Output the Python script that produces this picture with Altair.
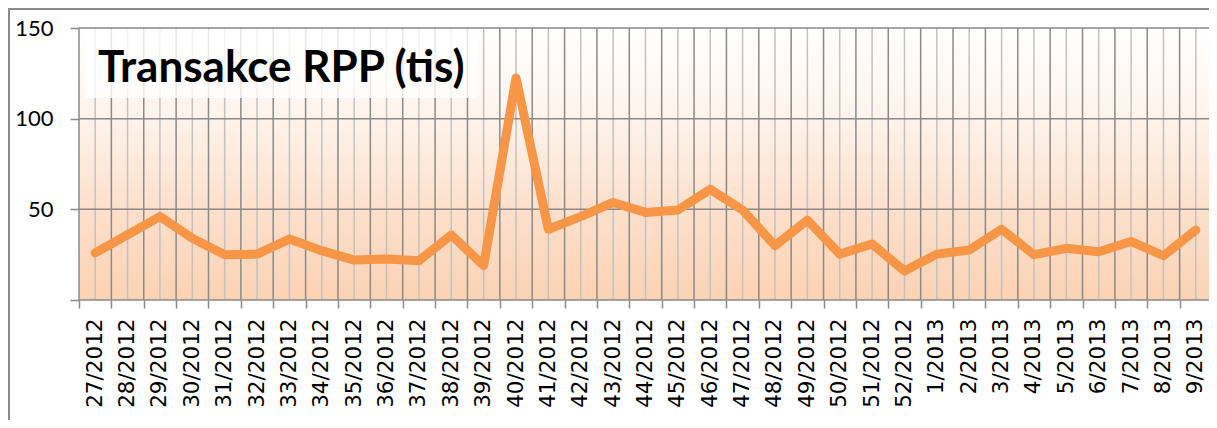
import altair as alt
import pandas as pd

weeks = ["27/2012", "28/2012", "29/2012", "30/2012", "31/2012", "32/2012", "33/2012",
         "34/2012", "35/2012", "36/2012", "37/2012", "38/2012", "39/2012", "40/2012",
         "41/2012", "42/2012", "43/2012", "44/2012", "45/2012", "46/2012", "47/2012",
         "48/2012", "49/2012", "50/2012", "51/2012", "52/2012", "1/2013", "2/2013",
         "3/2013", "4/2013", "5/2013", "6/2013", "7/2013", "8/2013", "9/2013"]
values = [26, 36, 46, 34, 25, 25.3, 33.6, 27.2, 22, 22.6,
          21.7, 35.8, 19, 122.5, 39, 46, 53.8, 48.3, 49.6, 61,
          49.6, 30, 44, 25.3, 30.9, 16, 25.3, 27.6, 39, 25,
          28.5, 26.6, 32.3, 24.4, 38.6]
y_ticks = [0, 50, 100, 150]
title_text = "Transakce RPP (tis)"

df = pd.DataFrame({"week": weeks, "value": values})
grid_df = pd.DataFrame({"y": y_ticks})
one = alt.Data(values=[{"a": 1}])

W = 1130
RANGE_W = 1133
H = 272
FONT = "Lato"
DARK = "#8a8a8a"
LIGHT = "#c2c2c2"

xscale = alt.Scale(type="band", domain=weeks, range=[0, RANGE_W], paddingInner=0, paddingOuter=0)
yscale = alt.Scale(domain=[0, 150], nice=False)

xaxis = alt.Axis(title=None, labelAngle=270, tickBand="extent", tickSize=8,
                 tickColor=DARK, tickWidth=1.5, domain=False, grid=False,
                 labelFont="DejaVu Sans", labelFontSize=21.5, labelColor="black",
                 labelPadding=10)
yaxis = alt.Axis(title=None, values=y_ticks, tickSize=9, tickColor=DARK,
                 tickWidth=1.5, domain=False, grid=False,
                 labelExpr="datum.value == 0 ? '' : datum.label",
                 labelFont=FONT, labelFontSize=22, labelColor="black",
                 labelPadding=17)

grad = alt.Gradient(
    gradient="linear",
    stops=[
        alt.GradientStop(color="#ffffff", offset=0),
        alt.GradientStop(color="#fef3eb", offset=0.33),
        alt.GradientStop(color="#fde0cc", offset=0.66),
        alt.GradientStop(color="#fbd2b3", offset=1),
    ],
    x1=0, x2=0, y1=0, y2=1,
)

background = alt.Chart(one).mark_rect(fill=grad).encode(
    x=alt.value(0), x2=alt.value(RANGE_W + 20), y=alt.value(0), y2=alt.value(H)
)

minor = alt.Chart(df).mark_rule(color=LIGHT, strokeWidth=1.5).encode(
    x=alt.X("week:O", scale=xscale, bandPosition=0.5, axis=xaxis),
    y=alt.value(0), y2=alt.value(H),
)

major = alt.Chart(df).mark_rule(color=DARK, strokeWidth=1.5).encode(
    x=alt.X("week:O", scale=xscale, bandPosition=0, axis=xaxis),
    y=alt.value(0), y2=alt.value(H),
)

hgrid = alt.Chart(grid_df).mark_rule(color=DARK, strokeWidth=1.5).encode(
    y=alt.Y("y:Q", scale=yscale, axis=yaxis),
    x=alt.value(0), x2=alt.value(RANGE_W + 20),
)

title_box = alt.Chart(one).mark_rect(fill="white", opacity=0.8).encode(
    x=alt.value(6), x2=alt.value(398), y=alt.value(1), y2=alt.value(70)
)

title = alt.Chart(one).mark_text(
    text=title_text, font=FONT, fontSize=44, fontWeight="bold", color="black",
    align="left", baseline="alphabetic",
).encode(x=alt.value(19), y=alt.value(54))

line = alt.Chart(df).mark_line(
    color="#F79646", strokeWidth=9, strokeJoin="round", strokeCap="round"
).encode(
    x=alt.X("week:O", scale=xscale, bandPosition=0.5, sort=weeks, axis=xaxis),
    y=alt.Y("value:Q", scale=yscale, axis=yaxis),
)

border = alt.Chart(one).mark_rect(fillOpacity=0, stroke="#8a8a8a", strokeWidth=2).encode(
    x=alt.value(-70), x2=alt.value(1300), y=alt.value(-19), y2=alt.value(600)
)

chart = alt.layer(background, minor, major, hgrid, title_box, title, line, border).properties(
    width=W, height=H,
    padding={"left": 71, "top": 20, "right": 0, "bottom": 120},
    autosize=alt.AutoSizeParams(type="none"),
).configure_view(stroke=None)

chart.save("out.html", embed_options={"renderer": "svg", "actions": False})
